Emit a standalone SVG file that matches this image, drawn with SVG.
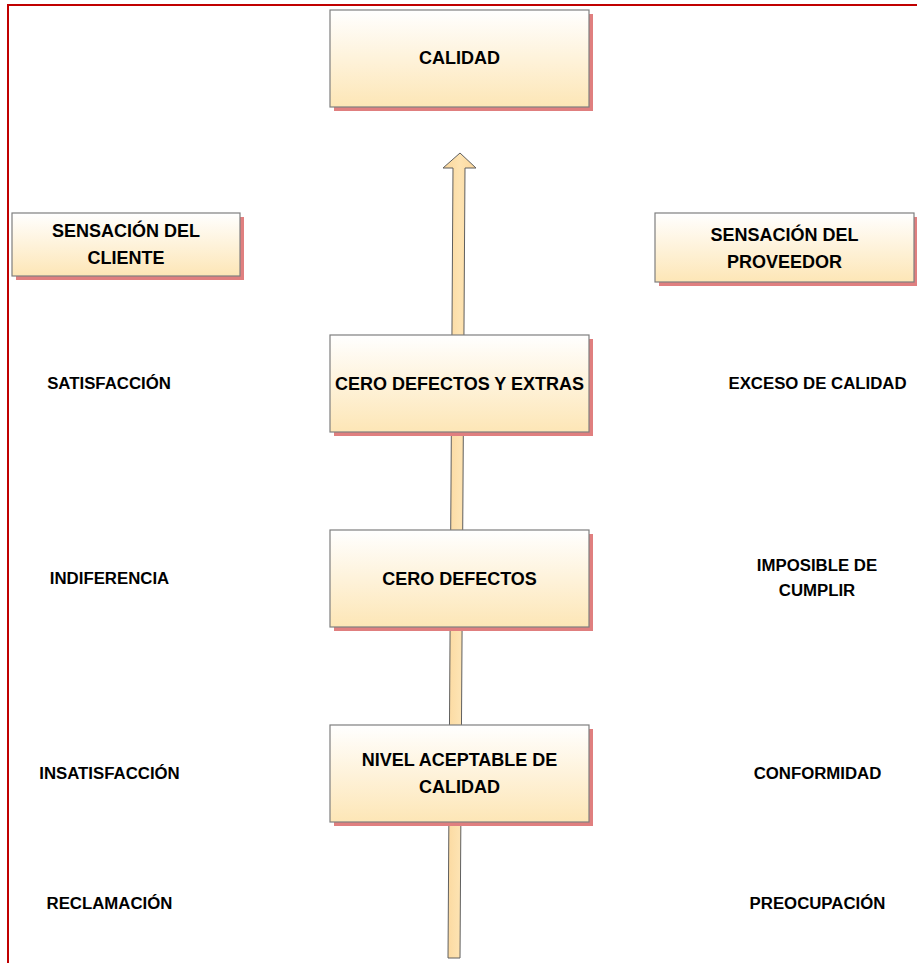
<svg xmlns="http://www.w3.org/2000/svg" width="917" height="963" viewBox="0 0 917 963">
<defs>
<linearGradient id="g" x1="0" y1="0" x2="0" y2="1">
<stop offset="0" stop-color="#ffffff"/>
<stop offset="1" stop-color="#fde6b6"/>
</linearGradient>
<linearGradient id="ga" x1="0" y1="0" x2="1" y2="0">
<stop offset="0" stop-color="#fbd69a"/>
<stop offset="0.5" stop-color="#fde3b2"/>
<stop offset="1" stop-color="#fbd69a"/>
</linearGradient>
</defs>
<style>
.box{fill:url(#g);stroke:#7f7f7f;stroke-width:1.2}
.sh{fill:#e07f7f}
.t{font-family:"Liberation Sans",Arial,sans-serif;font-weight:bold;fill:#000;text-anchor:middle}
.bt{font-size:18px}
.lt{font-size:16.8px}
</style>
<rect width="917" height="963" fill="#fff"/>
<g id="border" fill="none" stroke="#c00000" stroke-width="2">
<path d="M8 963 V5 H917"/>
</g>
<g id="connectors">
<path d="M448 958 L453 168 L443 168 L460 153 L476 168 L465 168 L460 958 Z" fill="url(#ga)" stroke="#5f5f5f" stroke-width="1" stroke-linejoin="miter"/>
</g>
<g id="calidad">
<rect class="sh" x="334" y="14" width="259" height="97"/>
<rect class="box" x="330" y="10" width="259" height="97"/>
<text class="t bt" x="459.5" y="64">CALIDAD</text>
</g>
<g id="sensacion-cliente">
<rect class="sh" x="16" y="217" width="228" height="63"/>
<rect class="box" x="12" y="213" width="228" height="63"/>
<text class="t bt" x="126" y="237">SENSACIÓN DEL</text>
<text class="t bt" x="126" y="264">CLIENTE</text>
</g>
<g id="sensacion-proveedor">
<rect class="sh" x="659" y="217" width="259" height="69"/>
<rect class="box" x="655" y="213" width="259" height="69"/>
<text class="t bt" x="784.5" y="241">SENSACIÓN DEL</text>
<text class="t bt" x="784.5" y="268">PROVEEDOR</text>
</g>
<g id="cero-defectos-extras">
<rect class="sh" x="334" y="339" width="259" height="97"/>
<rect class="box" x="330" y="335" width="259" height="97"/>
<text class="t bt" x="459.5" y="390">CERO DEFECTOS Y EXTRAS</text>
</g>
<g id="cero-defectos">
<rect class="sh" x="334" y="534" width="259" height="97"/>
<rect class="box" x="330" y="530" width="259" height="97"/>
<text class="t bt" x="459.5" y="585">CERO DEFECTOS</text>
</g>
<g id="nivel-aceptable">
<rect class="sh" x="334" y="729" width="259" height="97"/>
<rect class="box" x="330" y="725" width="259" height="97"/>
<text class="t bt" x="459.5" y="766">NIVEL ACEPTABLE DE</text>
<text class="t bt" x="459.5" y="793">CALIDAD</text>
</g>
<g id="labels-left">
<text class="t lt" x="109" y="389">SATISFACCIÓN</text>
<text class="t lt" x="109.5" y="584">INDIFERENCIA</text>
<text class="t lt" x="109.5" y="779">INSATISFACCIÓN</text>
<text class="t lt" x="109.5" y="909">RECLAMACIÓN</text>
</g>
<g id="labels-right">
<text class="t lt" x="817.5" y="389">EXCESO DE CALIDAD</text>
<text class="t lt" x="817" y="571">IMPOSIBLE DE</text>
<text class="t lt" x="817" y="596">CUMPLIR</text>
<text class="t lt" x="817.5" y="779">CONFORMIDAD</text>
<text class="t lt" x="817.5" y="909">PREOCUPACIÓN</text>
</g>
</svg>
